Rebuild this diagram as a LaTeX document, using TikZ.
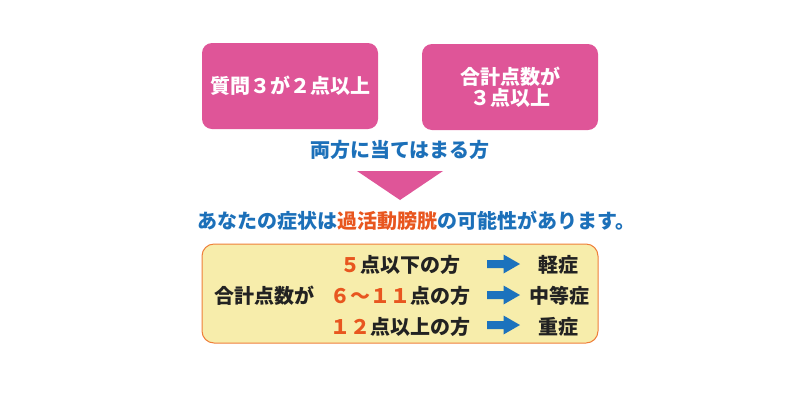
\documentclass[tikz,border=0pt]{standalone}
\usepackage{fontspec}
\newfontfamily\jp{Noto Sans CJK JP}
\definecolor{pinkc}{HTML}{DF5598}
\definecolor{bluec}{HTML}{1C70B9}
\definecolor{orangec}{HTML}{E8561F}
\definecolor{yfill}{HTML}{F7EDAB}
\definecolor{yborder}{HTML}{EF7F3A}
\definecolor{darktxt}{HTML}{222222}
\definecolor{arrowc}{HTML}{1C72BD}
\tikzset{
  jpfont/.style={font=\jp\bfseries\fontsize{20}{20.5}\selectfont},
  pinkbox/.style={jpfont, fill=pinkc, rounded corners=10pt, minimum width=176pt, minimum height=86pt, text=white, align=center, inner sep=0pt},
  bluetxt/.style={jpfont, text=bluec, inner sep=0pt},
  blacktxt/.style={jpfont, text=darktxt, inner sep=0pt},
  ybox/.style={fill=yfill, draw=yborder, line width=1pt, rounded corners=12pt, minimum width=396pt, minimum height=99pt, inner sep=0pt},
  barrow/.pic={\fill[arrowc] (-16.5,-4) -- (0,-4) -- (0,-9.5) -- (16.5,0) -- (0,9.5) -- (0,4) -- (-16.5,4) -- cycle;}
}
\begin{document}
\begin{tikzpicture}[x=1pt,y=-1pt]
\useasboundingbox (0,0) rectangle (800,400);
\node[pinkbox] (q3) at (290,86) {質問３が２点以上};
\node[pinkbox] (tot) at (510,87) {合計点数が\\３点以上};
\node[bluetxt] (both) at (400,150) {両方に当てはまる方};
\fill[pinkc] (357,171) -- (443,171) -- (400,200) -- cycle;
\node[bluetxt] (res) at (416,221) {あなたの症状は\textcolor{orangec}{過活動膀胱}の可能性があります。};
\node[ybox] (tbl) at (400,293.5) {};
\node[blacktxt] (lbl) at (264,296) {合計点数が};
\node[blacktxt] (r1) at (400,265) {\textcolor{orangec}{５}点以下の方};
\node[blacktxt] (r2) at (400,296) {\textcolor{orangec}{６～１１}点の方};
\node[blacktxt] (r3) at (400,327) {\textcolor{orangec}{１２}点以上の方};
\pic at (503.5,264) {barrow};
\pic at (503.5,295) {barrow};
\pic at (503.5,325) {barrow};
\node[blacktxt] (s1) at (558,265) {軽症};
\node[blacktxt] (s2) at (559,296) {中等症};
\node[blacktxt] (s3) at (558,327) {重症};
\end{tikzpicture}
\end{document}
